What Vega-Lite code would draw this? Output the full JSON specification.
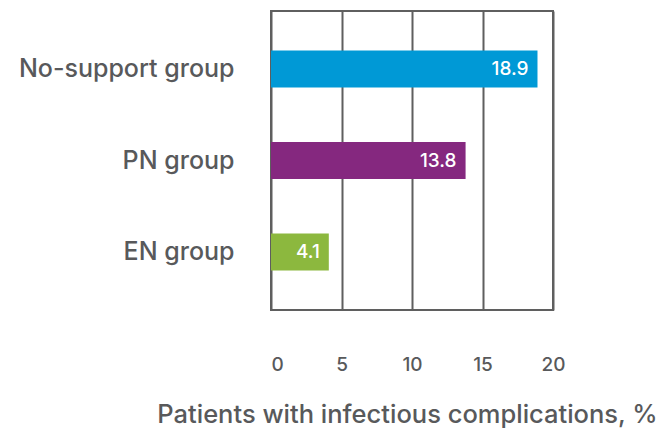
{
  "$schema": "https://vega.github.io/schema/vega-lite/v6.json",
  "autosize": {"type": "none"},
  "width": 282,
  "height": 299,
  "padding": {"left": 271, "top": 11, "right": 110, "bottom": 120},
  "background": "white",
  "config": {
    "font": "Inter",
    "view": {"stroke": "#5f5f5f", "strokeWidth": 2}
  },
  "data": {
    "values": [
      {"group": "No-support group", "value": 18.9, "label": "18.9"},
      {"group": "PN group", "value": 13.8, "label": "13.8"},
      {"group": "EN group", "value": 4.1, "label": "4.1"}
    ]
  },
  "encoding": {
    "y": {
      "field": "group",
      "type": "nominal",
      "sort": null,
      "scale": {"paddingInner": 0.596, "paddingOuter": 0.432},
      "axis": {
        "title": null,
        "domain": false,
        "ticks": false,
        "labelFontSize": 25,
        "labelFontWeight": 500,
        "labelColor": "#58595b",
        "labelPadding": 37,
        "labelLimit": 300
      }
    },
    "x": {
      "field": "value",
      "type": "quantitative",
      "scale": {"domain": [0, 20], "nice": false},
      "axis": {
        "values": [0, 5, 10, 15, 20],
        "title": "Patients with infectious complications, %",
        "titleFontSize": 25.5,
        "titleFontWeight": 500,
        "titleColor": "#58595b",
        "titleBaseline": "alphabetic",
        "titleY": 112,
        "titleX": 136,
        "titleLimit": 600,
        "domain": false,
        "ticks": false,
        "grid": true,
        "gridColor": "#5f5f5f",
        "gridWidth": 2,
        "gridOpacity": 1,
        "labelFontSize": 19,
        "labelFontWeight": 500,
        "labelColor": "#58595b",
        "labelPadding": 45,
        "labelAlign": {"condition": {"test": "datum.value == 0", "value": "left"}, "value": "center"}
      }
    }
  },
  "layer": [
    {
      "mark": {"type": "bar"},
      "encoding": {
        "color": {
          "field": "group",
          "type": "nominal",
          "scale": {
            "domain": ["No-support group", "PN group", "EN group"],
            "range": ["#0099d6", "#85287f", "#8cb83e"]
          },
          "legend": null
        }
      }
    },
    {
      "mark": {"type": "text", "align": "right", "dx": -9, "fontSize": 19, "fontWeight": 500, "color": "white", "baseline": "middle"},
      "encoding": {"text": {"field": "label"}}
    }
  ]
}
